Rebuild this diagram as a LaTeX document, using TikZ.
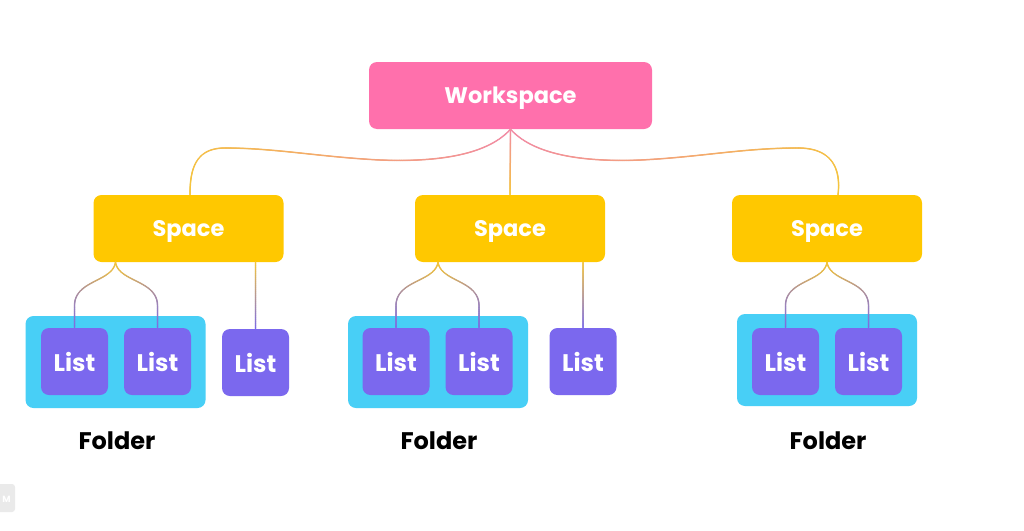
\documentclass[tikz,border=0pt]{standalone}
\usepackage{fontspec}
\setmainfont{Poppins}
\usetikzlibrary{decorations.markings,calc}
\definecolor{wspink}{HTML}{FF70AC}
\definecolor{spyel}{HTML}{FFC800}
\definecolor{foldcyan}{HTML}{48CFF6}
\definecolor{listpur}{HTML}{7B68EE}
\definecolor{linepink}{HTML}{F28AA6}
\definecolor{lineyel}{HTML}{F5C63A}
\definecolor{linepur}{HTML}{7C6BE6}
\definecolor{wmgray}{HTML}{EAEAEA}
\tikzset{
  box/.style={rounded corners=8pt, inner sep=0pt, text=white},
  wsbox/.style={box, fill=wspink, minimum width=283pt, minimum height=67pt,
    text depth=0pt, font=\fontsize{22.5}{26}\selectfont\bfseries},
  spbox/.style={box, fill=spyel, minimum width=190pt, minimum height=67pt,
    text depth=0pt, font=\fontsize{22.5}{26}\selectfont\bfseries},
  foldbox/.style={rounded corners=8pt, inner sep=0pt, fill=foldcyan, minimum width=180pt, minimum height=92pt},
  listbox/.style={box, fill=listpur, minimum width=67pt, minimum height=67pt,
    font=\fontsize{24}{28}\selectfont\bfseries},
  foldlabel/.style={inner sep=0pt, text=black, font=\fontsize{24}{28}\selectfont\bfseries},
  grad/.style 2 args={postaction={decorate}, decoration={markings,
    mark=between positions 0 and 1 step 0.4pt with {%
      \pgfmathsetmacro\gp{min(100,max(0,\pgfkeysvalueof{/pgf/decoration/mark info/distance from start}/\pgfdecoratedpathlength*100))}%
      \fill[#2!\gp!#1] (0,0) circle (0.75pt);}}}
}
\begin{document}
\begin{tikzpicture}[x=1pt,y=-1pt]
\fill[white] (0,0) rectangle (1024,530);
\useasboundingbox (0,0) rectangle (1024,530);

% watermark
\fill[wmgray, rounded corners=3pt] (-10,484) rectangle (15,512);
\node[inner sep=0pt, text=white, font=\fontsize{9}{9}\selectfont\bfseries] (wm) at (6.5,499) {M};

% boxes
\node[wsbox] (ws) at (510.5,95.5) {Workspace};
\node[spbox] (sp1) at (188.5,228.5) {Space};
\node[spbox] (sp2) at (510,228.5) {Space};
\node[spbox] (sp3) at (827,228.5) {Space};

\node[foldbox] (fo1) at (115.5,362) {};
\node[foldbox] (fo2) at (438,362) {};
\node[foldbox] (fo3) at (827,360) {};

\node[listbox] (l1a) at (74.5,361.5) {List};
\node[listbox] (l1b) at (157.5,361.5) {List};
\node[listbox] (l1c) at (255.5,362.5) {List};
\node[listbox] (l2a) at (396,361.5) {List};
\node[listbox] (l2b) at (479,361.5) {List};
\node[listbox] (l2c) at (583,361.5) {List};
\node[listbox] (l3a) at (785.5,361.5) {List};
\node[listbox] (l3b) at (868.5,361.5) {List};

\node[foldlabel] (fl1) at (117,441) {Folder};
\node[foldlabel] (fl2) at (439,441) {Folder};
\node[foldlabel] (fl3) at (828,441) {Folder};

% workspace -> spaces
\coordinate (c1) at (380,160);
\coordinate (c2) at (225,148);
\coordinate (c3) at (641,160);
\coordinate (c4) at (798,148);
\path[grad={linepink}{lineyel}] (ws.south) .. controls +(-25,28) and +(50,2) .. (c1)
  .. controls +(-60,-3) and +(50,0) .. (c2)
  .. controls +(-30,0) and +(0,-25) .. ([xshift=1.5pt]sp1.north);
\path[grad={linepink}{lineyel}] (ws.south) .. controls +(25,28) and +(-50,2) .. (c3)
  .. controls +(60,-3) and +(-55,0) .. (c4)
  .. controls +(35,0) and +(3,-25) .. ([xshift=11pt]sp3.north);
\path[grad={linepink}{lineyel}] (ws.south) -- (sp2.north);

% spaces -> lists
\foreach \s/\f/\a/\b in {sp1/fo1/l1a/l1b, sp2/fo2/l2a/l2b, sp3/fo3/l3a/l3b}{
  \path[grad={lineyel}{linepur}] (\f |- \s.south) .. controls +(-3,20) and +(0,-26) .. ([yshift=22pt]\a.north) -- (\a.north);
  \path[grad={lineyel}{linepur}] (\f |- \s.south) .. controls +(3,20) and +(0,-26) .. ([yshift=22pt]\b.north) -- (\b.north);
}
\path[grad={lineyel}{linepur}] (l1c |- sp1.south) -- (l1c.north);
\path[grad={lineyel}{linepur}] (l2c |- sp2.south) -- (l2c.north);
\end{tikzpicture}
\end{document}
